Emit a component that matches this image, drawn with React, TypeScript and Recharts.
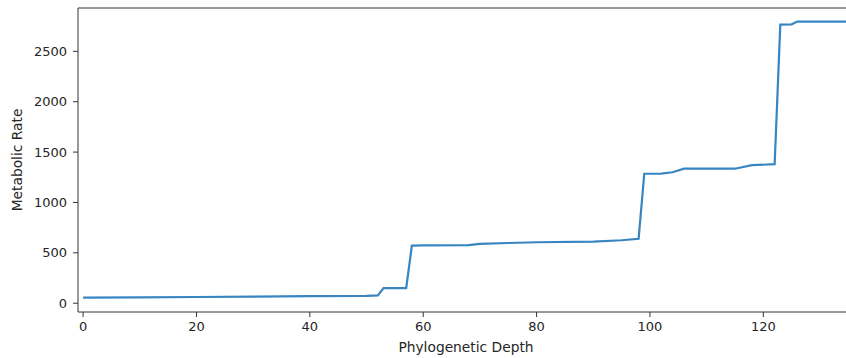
import { LineChart, Line, XAxis, YAxis, ReferenceLine } from "recharts";

// breakpoints of the metabolic rate curve
const depths = [0, 10, 20, 30, 40, 50, 52, 53, 57, 58, 60, 68, 70, 75, 80, 90, 95, 98, 99, 102, 104, 106, 115, 118, 122, 123, 125, 126, 135];
const rates = [55, 58, 62, 66, 70, 74, 78, 150, 150, 572, 575, 576, 590, 598, 605, 612, 625, 640, 1285, 1286, 1300, 1335, 1335, 1370, 1380, 2765, 2768, 2795, 2795];

const xTicks = [0, 20, 40, 60, 80, 100, 120];
const yTicks = [0, 500, 1000, 1500, 2000, 2500];

const data = depths.map((d, i) => ({ depth: d, rate: rates[i] }));

const font = "DejaVu Sans, sans-serif";
const axisColor = "#333";
const textColor = "#262626";
const yMax = 2930;

export default function App() {
  return (
    <div style={{ position: "absolute", left: 0, top: 0, width: 846, height: 358, overflow: "hidden", background: "#fff" }}>
      <LineChart
        width={900}
        height={358}
        data={data}
        margin={{ top: 8, right: 46, bottom: 0, left: 0 }}
      >
        <XAxis
          dataKey="depth"
          type="number"
          domain={[-0.9, 136]}
          ticks={xTicks}
          allowDataOverflow
          height={46}
          tickSize={5}
          tickMargin={5}
          stroke={axisColor}
          tick={{ fill: textColor, fontSize: 13, fontFamily: font }}
          label={{ value: "Phylogenetic Depth", position: "insideBottom", offset: 6, fill: textColor, fontSize: 13.8, fontFamily: font }}
        />
        <YAxis
          type="number"
          domain={[-87, yMax]}
          ticks={yTicks}
          allowDataOverflow
          width={78}
          tickSize={5}
          tickMargin={6}
          stroke={axisColor}
          tick={{ fill: textColor, fontSize: 13, fontFamily: font }}
          label={{ value: "Metabolic Rate", angle: -90, position: "insideLeft", offset: 17, fill: textColor, fontSize: 13.8, fontFamily: font, style: { textAnchor: "middle" } }}
        />
        <ReferenceLine y={yMax} stroke={axisColor} />
        <Line
          type="linear"
          dataKey="rate"
          stroke="#3786c2"
          strokeWidth={2.2}
          dot={false}
          isAnimationActive={false}
        />
      </LineChart>
    </div>
  );
}
